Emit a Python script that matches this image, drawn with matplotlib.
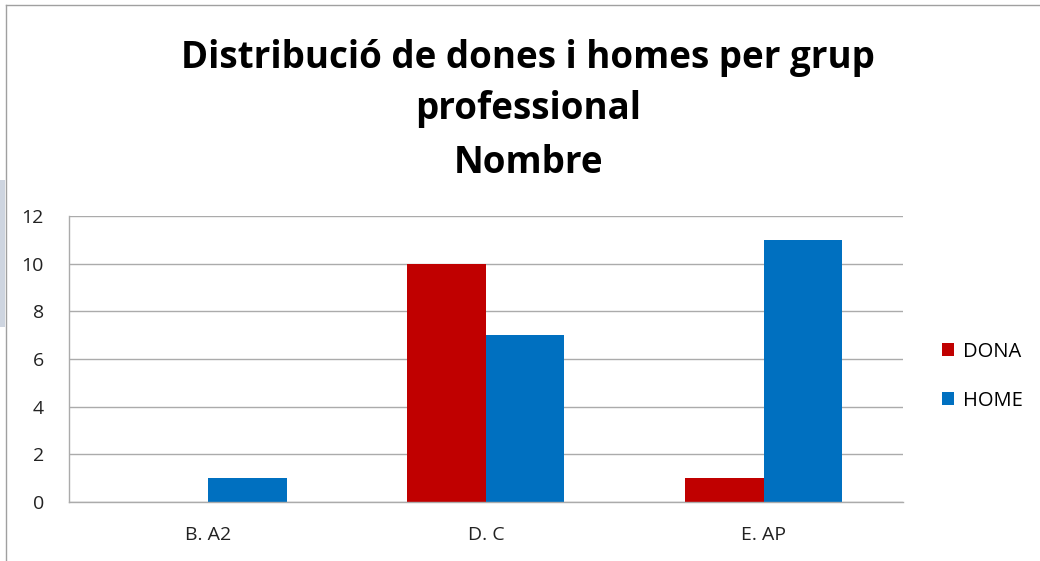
import matplotlib.pyplot as plt
from matplotlib.lines import Line2D
from matplotlib.patches import Rectangle
import numpy as np

# chart data
categories = ["B. A2", "D. C", "E. AP"]
dona = [0, 10, 1]
home = [1, 7, 11]
yticks = [0, 2, 4, 6, 8, 10, 12]

plt.rcParams['font.family'] = ['Open Sans', 'DejaVu Sans']

fig = plt.figure(figsize=(10.4, 5.61), dpi=100)
ax = fig.add_axes([0.0663, 0.1052, 0.8017, 0.5098])

x = np.arange(len(categories))
w = 0.283
ax.bar(x - w / 2, dona, w, color="#C00000", label="DONA")
ax.bar(x + w / 2, home, w, color="#0070C0", label="HOME")

ax.set_xlim(-0.5, 2.5)
ax.set_ylim(0, 12)
ax.set_yticks(yticks)
ax.set_xticks(x)
ax.set_xticklabels(categories)
ax.tick_params(length=0, labelsize=14, colors="#222222")
ax.tick_params(axis="x", pad=17)
ax.tick_params(axis="y", pad=18)
ax.yaxis.grid(True, color="#ABABAB", linewidth=1)
ax.set_axisbelow(True)
for s in ["top", "right"]:
    ax.spines[s].set_visible(False)
for s in ["left", "bottom"]:
    ax.spines[s].set_color("#ABABAB")
    ax.spines[s].set_linewidth(1)

leg = ax.legend(loc="center left", bbox_to_anchor=(1.025, 0.44), frameon=False,
                fontsize=14.5, handlelength=0.6, handleheight=0.6, labelspacing=1.45,
                handletextpad=0.45)

fig.text(0.508, 0.896, "Distribució de dones i homes per grup", ha="center",
         va="center", fontsize=26.5, fontweight="bold")
fig.text(0.508, 0.806, "professional", ha="center", va="center",
         fontsize=26.5, fontweight="bold")
fig.text(0.508, 0.709, "Nombre", ha="center", va="center",
         fontsize=26.5, fontweight="bold")

# outer frame lines and left-edge shape
fig.add_artist(Line2D([6 / 1040, 1], [1 - 5 / 561, 1 - 5 / 561], color="#A0A0A0", lw=1))
fig.add_artist(Line2D([6 / 1040, 6 / 1040], [0, 1 - 5 / 561], color="#A0A0A0", lw=1))
fig.add_artist(Rectangle((0, 1 - 327 / 561), 5 / 1040, 147 / 561, color="#CED5E0", lw=0))

fig.savefig("out.png", dpi=100)
